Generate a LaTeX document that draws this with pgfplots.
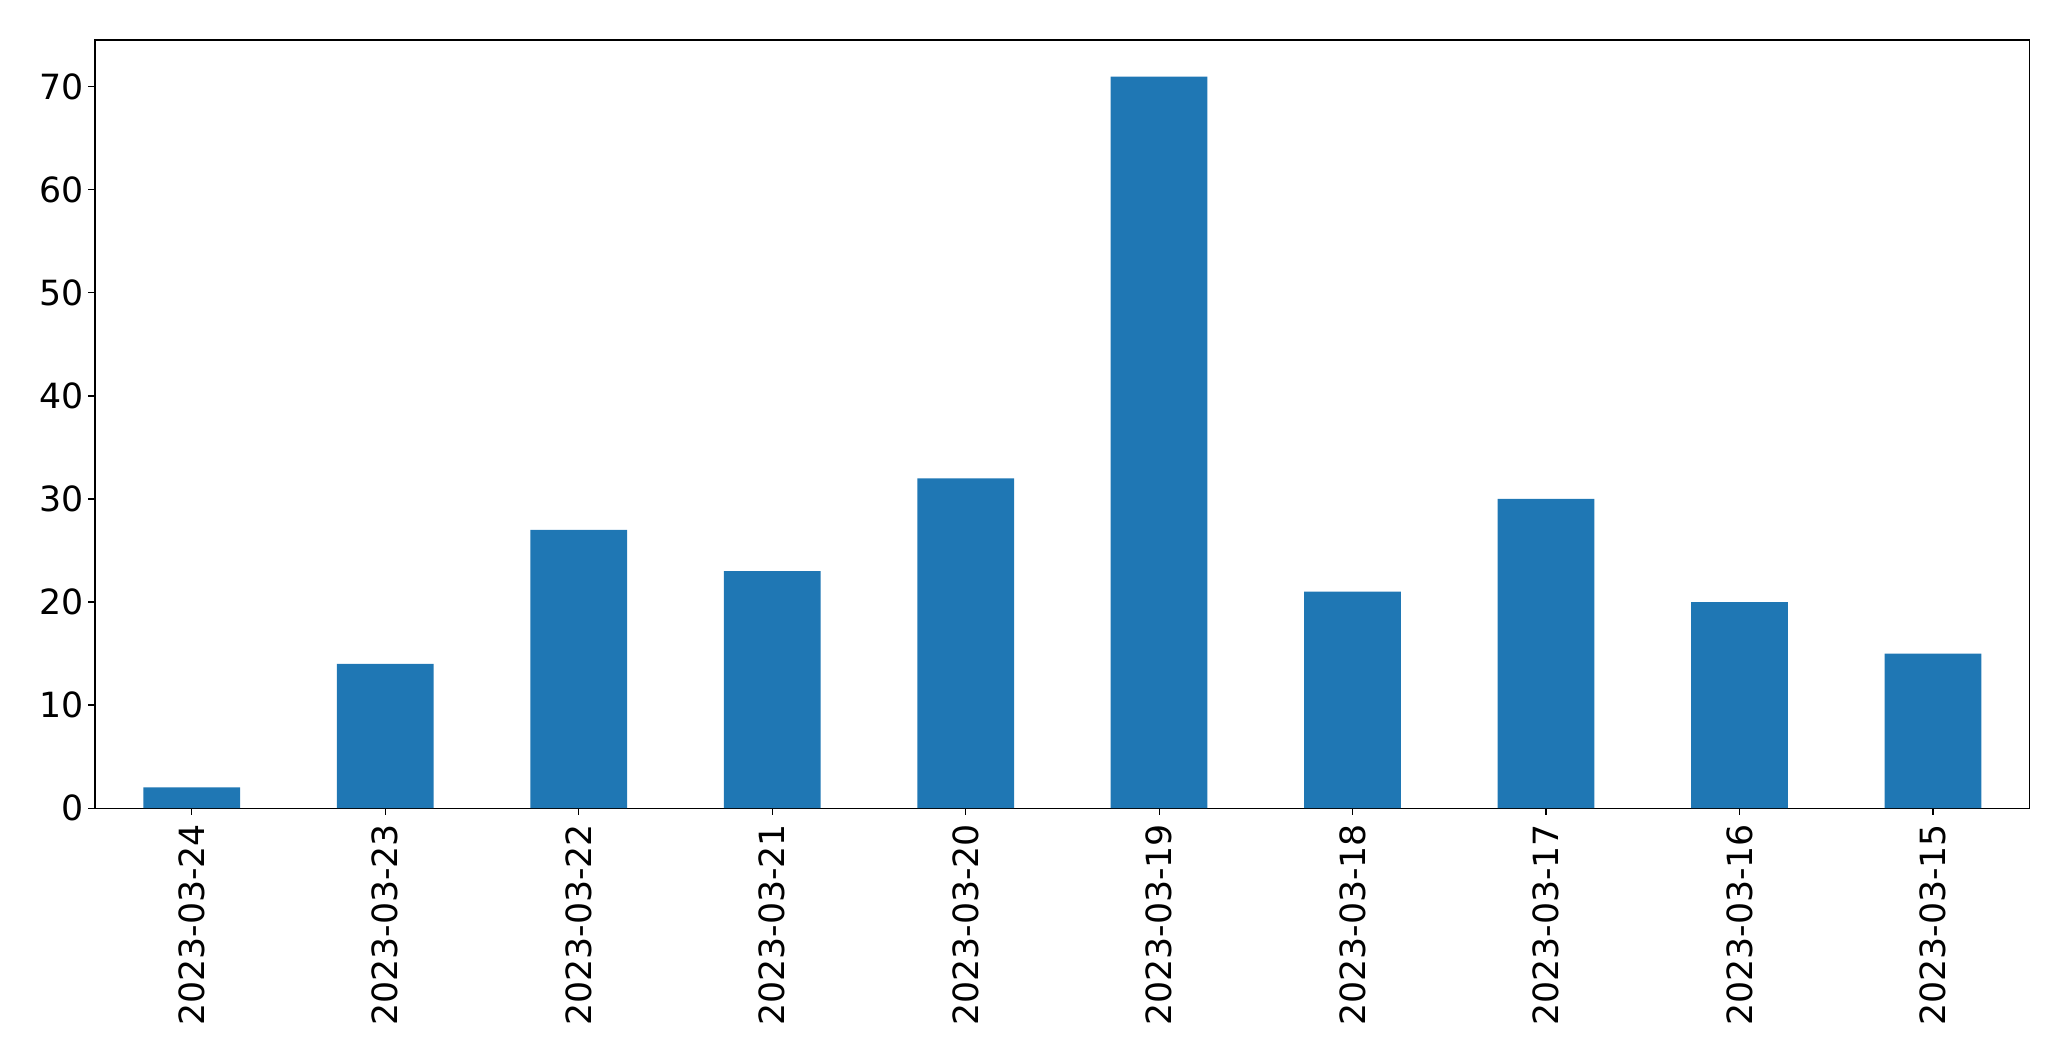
\documentclass[border=0pt]{standalone}
\usepackage{pgfplots}
\pgfplotsset{compat=1.18}
\usepackage{fontspec}
\setmainfont{DejaVu Sans}
\definecolor{mplblue}{HTML}{1F77B4}
\begin{document}
\begin{tikzpicture}
\path[use as bounding box] (-68.4pt,-182.2pt) rectangle (1422.7pt,581.8pt);
\begin{axis}[
  at={(0pt,0pt)}, anchor=south west,
  scale only axis, width=1393pt, height=553pt,
  xmin=-0.5, xmax=9.5, ymin=0, ymax=74.55,
  xtick={0,...,9},
  xticklabels={2023-03-24,2023-03-23,2023-03-22,2023-03-21,2023-03-20,2023-03-19,2023-03-18,2023-03-17,2023-03-16,2023-03-15},
  ytick={0,10,...,70},
  x tick label style={rotate=90, anchor=east},
  tick label style={font=\fontsize{25}{30}\selectfont},
  /pgf/number format/assume math mode=true,
  tick align=outside, major tick length=4.9pt,
  tick style={black, line width=0.8pt},
  axis line style={line width=0.8pt},
  xtick pos=bottom, ytick pos=left,
  xticklabel shift=3pt, yticklabel shift=0pt,
]
\addplot[ybar, bar width=0.5, fill=mplblue, draw=none, bar shift=0pt] coordinates {
(0,2) (1,14) (2,27) (3,23) (4,32) (5,71) (6,21) (7,30) (8,20) (9,15)
};
\end{axis}
\end{tikzpicture}
\end{document}
